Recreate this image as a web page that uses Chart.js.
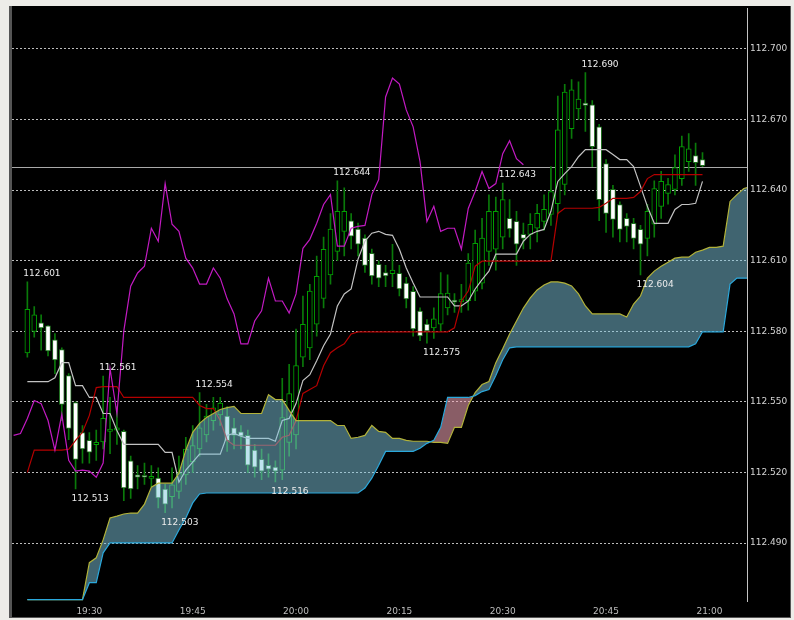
<!DOCTYPE html>
<html>
<head>
<meta charset="utf-8">
<script src="https://cdn.jsdelivr.net/npm/chart.js@4.4.1/dist/chart.umd.min.js"></script>
<style>
  html, body { margin: 0; padding: 0; background: #edece8; }
  #wrap { width: 794px; height: 620px; }
</style>
</head>
<body>
<div id="wrap"><canvas id="chart" width="794" height="620"></canvas></div>
<script>
// 1-minute bars, x value = minutes after 19:00
const candleStart = 21;
const opens = [
  112.5708, 112.5800, 112.5836, 112.5823, 112.5764, 112.5722, 112.5612, 112.5497, 112.5370, 112.5337,
  112.5318, 112.5330, 112.5375, 112.5380, 112.5375, 112.5250, 112.5190, 112.5185, 112.5175, 112.5176,
  112.5130, 112.5098, 112.5120, 112.5190, 112.5245, 112.5300, 112.5360, 112.5420, 112.5445, 112.5440,
  112.5390, 112.5373, 112.5358, 112.5295, 112.5256, 112.5231, 112.5223, 112.5210, 112.5328, 112.5360,
  112.5690, 112.5730, 112.5830, 112.5940, 112.6040, 112.6140, 112.6225, 112.6270, 112.6234, 112.6196,
  112.6132, 112.6085, 112.6050, 112.6045, 112.6047, 112.6005, 112.5970, 112.5886, 112.5831, 112.5815,
  112.5831, 112.5899, 112.5927, 112.5925, 112.5930, 112.5971, 112.6005, 112.6140, 112.6149, 112.6200,
  112.6280, 112.6267, 112.6212, 112.6212, 112.6238, 112.6267, 112.6297, 112.6343, 112.6424, 112.6661,
  112.6745, 112.6770, 112.6762, 112.6669, 112.6513, 112.6403, 112.6339, 112.6280, 112.6259, 112.6233,
  112.6195, 112.6255, 112.6331, 112.6386, 112.6403, 112.6449, 112.6521, 112.6547, 112.6530
];
const highs = [
  112.6010, 112.5905, 112.5870, 112.5825, 112.5790, 112.5730, 112.5620, 112.5500, 112.5400, 112.5370,
  112.5380, 112.5610, 112.5520, 112.5480, 112.5380, 112.5270, 112.5230, 112.5240, 112.5230, 112.5220,
  112.5150, 112.5220, 112.5270, 112.5350, 112.5400, 112.5540, 112.5490, 112.5520, 112.5520, 112.5480,
  112.5430, 112.5400, 112.5380, 112.5320, 112.5300, 112.5280, 112.5250, 112.5600, 112.5660, 112.5810,
  112.5950, 112.6000, 112.6120, 112.6200, 112.6300, 112.6440, 112.6410, 112.6300, 112.6260, 112.6210,
  112.6150, 112.6100, 112.6080, 112.6170, 112.6080, 112.6030, 112.5990, 112.5900, 112.5850, 112.5900,
  112.6050, 112.6040, 112.5960, 112.6000, 112.6130, 112.6230, 112.6280, 112.6380, 112.6370, 112.6430,
  112.6360, 112.6310, 112.6260, 112.6300, 112.6340, 112.6380, 112.6500, 112.6800, 112.6850, 112.6870,
  112.6860, 112.6900, 112.6780, 112.6680, 112.6530, 112.6420, 112.6350, 112.6300, 112.6280, 112.6250,
  112.6340, 112.6440, 112.6480, 112.6450, 112.6550, 112.6630, 112.6640, 112.6600, 112.6560
];
const lows = [
  112.5690, 112.5775, 112.5720, 112.5696, 112.5620, 112.5420, 112.5340, 112.5130, 112.5240, 112.5240,
  112.5252, 112.5300, 112.5280, 112.5320, 112.5080, 112.5090, 112.5130, 112.5150, 112.5140, 112.5050,
  112.5030, 112.5050, 112.5090, 112.5150, 112.5200, 112.5270, 112.5330, 112.5380, 112.5400, 112.5290,
  112.5300, 112.5300, 112.5200, 112.5180, 112.5170, 112.5180, 112.5160, 112.5170, 112.5270, 112.5300,
  112.5650, 112.5680, 112.5780, 112.5900, 112.6000, 112.6100, 112.6120, 112.6150, 112.6120, 112.6050,
  112.6000, 112.5990, 112.5990, 112.5990, 112.5950, 112.5900, 112.5780, 112.5760, 112.5750, 112.5770,
  112.5800, 112.5870, 112.5880, 112.5880, 112.5890, 112.5930, 112.5980, 112.6080, 112.6060, 112.6150,
  112.6200, 112.6080, 112.6150, 112.6150, 112.6180, 112.6230, 112.6250, 112.6300, 112.6380, 112.6620,
  112.6700, 112.6650, 112.6500, 112.6270, 112.6220, 112.6200, 112.6180, 112.6180, 112.6150, 112.6040,
  112.6120, 112.6200, 112.6280, 112.6340, 112.6380, 112.6420, 112.6480, 112.6420, 112.6500
];
const closes = [
  112.5894, 112.5870, 112.5815, 112.5717, 112.5679, 112.5490, 112.5388, 112.5256, 112.5300, 112.5287,
  112.5328, 112.5430, 112.5385, 112.5390, 112.5135, 112.5130, 112.5180, 112.5180, 112.5180, 112.5092,
  112.5066, 112.5148, 112.5198, 112.5300, 112.5315, 112.5390, 112.5440, 112.5475, 112.5495, 112.5335,
  112.5358, 112.5355, 112.5231, 112.5223, 112.5206, 112.5214, 112.5206, 112.5434, 112.5536, 112.5654,
  112.5830, 112.5971, 112.6034, 112.6149, 112.6234, 112.6310, 112.6310, 112.6204, 112.6170, 112.6080,
  112.6035, 112.6026, 112.6035, 112.6060, 112.5980, 112.5938, 112.5810, 112.5781, 112.5802, 112.5853,
  112.5960, 112.5963, 112.5924, 112.5935, 112.6090, 112.6174, 112.6196, 112.6310, 112.6310, 112.6360,
  112.6235, 112.6170, 112.6195, 112.6255, 112.6301, 112.6318, 112.6394, 112.6656, 112.6817, 112.6826,
  112.6787, 112.6760, 112.6585, 112.6360, 112.6301, 112.6276, 112.6233, 112.6246, 112.6195, 112.6170,
  112.6310, 112.6407, 112.6437, 112.6424, 112.6496, 112.6585, 112.6576, 112.6517, 112.6504
];

// Ichimoku lines
const tenkanStart = 21;
const tenkan = [
  112.5586, 112.5586, 112.5586, 112.5586, 112.5603, 112.5667, 112.5667, 112.5569, 112.5569, 112.5519,
  112.5519, 112.5451, 112.5451, 112.5379, 112.5320, 112.5320, 112.5320, 112.5320, 112.5320, 112.5320,
  112.5286, 112.5286, 112.5159, 112.5210, 112.5244, 112.5278, 112.5278, 112.5278, 112.5278, 112.5358,
  112.5366, 112.5354, 112.5345, 112.5345, 112.5345, 112.5345, 112.5333, 112.5421, 112.5430, 112.5493,
  112.5591, 112.5616, 112.5675, 112.5739, 112.5789, 112.5908, 112.5959, 112.5980, 112.6107, 112.6183,
  112.6217, 112.6225, 112.6212, 112.6208, 112.6149, 112.6069, 112.6005, 112.5946, 112.5946, 112.5946,
  112.5946, 112.5946, 112.5908, 112.5908, 112.5929, 112.5980, 112.6020, 112.6056, 112.6128, 112.6128,
  112.6128, 112.6128, 112.6183, 112.6212, 112.6225, 112.6233, 112.6310, 112.6437, 112.6470, 112.6500,
  112.6542, 112.6572, 112.6572, 112.6572, 112.6572, 112.6551, 112.6530, 112.6530, 112.6500, 112.6416,
  112.6331, 112.6259, 112.6259, 112.6259, 112.6318, 112.6339, 112.6339, 112.6344, 112.6437
];
const kijunStart = 21;
const kijun = [
  112.5201, 112.5295, 112.5295, 112.5295, 112.5295, 112.5295, 112.5299, 112.5337, 112.5371, 112.5443,
  112.5561, 112.5565, 112.5565, 112.5565, 112.5519, 112.5519, 112.5519, 112.5519, 112.5519, 112.5519,
  112.5519, 112.5519, 112.5519, 112.5519, 112.5519, 112.5485, 112.5472, 112.5472, 112.5421, 112.5337,
  112.5316, 112.5316, 112.5316, 112.5316, 112.5316, 112.5316, 112.5316, 112.5350, 112.5358, 112.5421,
  112.5536, 112.5553, 112.5569, 112.5654, 112.5709, 112.5730, 112.5747, 112.5789, 112.5798, 112.5798,
  112.5798, 112.5798, 112.5798, 112.5798, 112.5798, 112.5798, 112.5798, 112.5798, 112.5798, 112.5798,
  112.5798, 112.5798, 112.5815, 112.5929, 112.5971, 112.6077, 112.6098, 112.6098, 112.6098, 112.6098,
  112.6098, 112.6098, 112.6098, 112.6098, 112.6098, 112.6098, 112.6098, 112.6301, 112.6323, 112.6323,
  112.6323, 112.6323, 112.6323, 112.6327, 112.6344, 112.6365, 112.6365, 112.6365, 112.6369, 112.6394,
  112.6449, 112.6466, 112.6466, 112.6466, 112.6466, 112.6466, 112.6466, 112.6466, 112.6466
];
const chikouStart = 19;
const chikou = [
  112.5358, 112.5366, 112.5430, 112.5506, 112.5493, 112.5421, 112.5295, 112.5447, 112.5252, 112.5206,
  112.5210, 112.5206, 112.5180, 112.5240, 112.5642, 112.5451, 112.5802, 112.5992, 112.6048, 112.6077,
  112.6238, 112.6183, 112.6428, 112.6255, 112.6225, 112.6111, 112.6069, 112.6001, 112.6001, 112.6069,
  112.6026, 112.5938, 112.5874, 112.5747, 112.5747, 112.5844, 112.5887, 112.6026, 112.5929, 112.5929,
  112.5878, 112.5959, 112.6153, 112.6191, 112.6259, 112.6339, 112.6381, 112.6162, 112.6162, 112.6238,
  112.6246, 112.6250, 112.6381, 112.6445, 112.6796, 112.6876, 112.6851, 112.6741, 112.6669, 112.6521,
  112.6267, 112.6331, 112.6225, 112.6238, 112.6238, 112.6149, 112.6322, 112.6394, 112.6479, 112.6407,
  112.6428, 112.6555, 112.6610, 112.6534, 112.6508
];
const spanStart = 21;
const spanA = [
  112.4660, 112.4660, 112.4660, 112.4660, 112.4660, 112.4660, 112.4660, 112.4660, 112.4660, 112.4817,
  112.4838, 112.4914, 112.5007, 112.5015, 112.5024, 112.5028, 112.5028, 112.5066, 112.5138, 112.5155,
  112.5155, 112.5155, 112.5197, 112.5295, 112.5371, 112.5409, 112.5434, 112.5451, 112.5468, 112.5476,
  112.5481, 112.5451, 112.5451, 112.5451, 112.5451, 112.5531, 112.5510, 112.5510, 112.5464, 112.5421,
  112.5421, 112.5421, 112.5421, 112.5421, 112.5421, 112.5400, 112.5400, 112.5345, 112.5350, 112.5358,
  112.5400, 112.5375, 112.5371, 112.5345, 112.5345, 112.5337, 112.5333, 112.5333, 112.5333, 112.5328,
  112.5328, 112.5324, 112.5392, 112.5392, 112.5485, 112.5540, 112.5574, 112.5587, 112.5667, 112.5726,
  112.5789, 112.5844, 112.5899, 112.5942, 112.5976, 112.5997, 112.6010, 112.6010, 112.6005, 112.5993,
  112.5959, 112.5908, 112.5874, 112.5874, 112.5874, 112.5874, 112.5874, 112.5861, 112.5916, 112.5950,
  112.6026, 112.6056, 112.6077, 112.6094, 112.6111, 112.6115, 112.6115, 112.6136, 112.6145, 112.6157,
  112.6157, 112.6162, 112.6352, 112.6381, 112.6407, 112.6416
];
const spanB = [
  112.4660, 112.4660, 112.4660, 112.4660, 112.4660, 112.4660, 112.4660, 112.4660, 112.4660, 112.4732,
  112.4732, 112.4859, 112.4901, 112.4901, 112.4901, 112.4901, 112.4901, 112.4901, 112.4901, 112.4901,
  112.4901, 112.4901, 112.4956, 112.5007, 112.5071, 112.5109, 112.5113, 112.5113, 112.5113, 112.5113,
  112.5113, 112.5113, 112.5113, 112.5113, 112.5113, 112.5113, 112.5113, 112.5113, 112.5113, 112.5113,
  112.5113, 112.5113, 112.5113, 112.5113, 112.5113, 112.5113, 112.5113, 112.5113, 112.5113, 112.5134,
  112.5176, 112.5231, 112.5290, 112.5290, 112.5290, 112.5290, 112.5290, 112.5303, 112.5324, 112.5337,
  112.5392, 112.5519, 112.5519, 112.5519, 112.5519, 112.5527, 112.5544, 112.5553, 112.5612, 112.5679,
  112.5730, 112.5734, 112.5734, 112.5734, 112.5734, 112.5734, 112.5734, 112.5734, 112.5734, 112.5734,
  112.5734, 112.5734, 112.5734, 112.5734, 112.5734, 112.5734, 112.5734, 112.5734, 112.5734, 112.5734,
  112.5734, 112.5734, 112.5734, 112.5734, 112.5734, 112.5734, 112.5734, 112.5747, 112.5798, 112.5798,
  112.5798, 112.5798, 112.6001, 112.6026, 112.6026, 112.6026
];

// axes
const yTicks = [112.490, 112.520, 112.550, 112.580, 112.610, 112.640, 112.670, 112.700];
const xTicks = [30, 45, 60, 75, 90, 105, 120];
const xTickLabels = ['19:30', '19:45', '20:00', '20:15', '20:30', '20:45', '21:00'];
const lastPrice = 112.650;

// swing high / low markers
const markMinutes = [21, 32, 46, 66, 90, 102, 28, 41, 57, 79, 110];
const markPrices = [112.601, 112.561, 112.554, 112.644, 112.643, 112.690, 112.513, 112.503, 112.516, 112.575, 112.604];
const markAbove = [true, true, true, true, true, true, false, false, false, false, false];

const FONT = 'DejaVu Sans';
Chart.defaults.font.family = FONT;

const toPoints = (start, values) => values.map((v, i) => ({ x: start + i, y: v }));
const isBull = opens.map((o, i) => closes[i] >= o);
const wickData = lows.map((l, i) => ({ x: candleStart + i, y: [l, highs[i]] }));
const bodyData = opens.map((o, i) => ({ x: candleStart + i, y: [o, closes[i]] }));

const framePlugin = {
  id: 'frame',
  beforeDraw(chart) {
    const ctx = chart.ctx;
    ctx.save();
    ctx.fillStyle = '#edece8';
    ctx.fillRect(0, 0, chart.width, chart.height);
    ctx.fillStyle = '#000';
    ctx.fillRect(12, 6, 778, 612);
    ctx.fillStyle = '#555';
    ctx.fillRect(9, 6, 3, 612);
    ctx.fillRect(9, 617, 782, 1);
    ctx.fillRect(790, 6, 1, 612);
    ctx.restore();
  }
};

const priceLinePlugin = {
  id: 'priceLine',
  beforeDatasetsDraw(chart) {
    const { ctx, chartArea, scales } = chart;
    const y = Math.round(scales.y.getPixelForValue(lastPrice)) + 0.5;
    ctx.save();
    ctx.strokeStyle = '#a9a9a9';
    ctx.lineWidth = 1;
    ctx.beginPath();
    ctx.moveTo(chartArea.left, y);
    ctx.lineTo(chartArea.right, y);
    ctx.stroke();
    ctx.restore();
  }
};

const marksPlugin = {
  id: 'marks',
  afterDatasetsDraw(chart) {
    const { ctx, scales } = chart;
    ctx.save();
    ctx.font = '9px "' + FONT + '"';
    ctx.fillStyle = '#ececec';
    ctx.textAlign = 'left';
    ctx.textBaseline = 'middle';
    markMinutes.forEach((m, i) => {
      const x = scales.x.getPixelForValue(m) - 4;
      const y = scales.y.getPixelForValue(markPrices[i]) + (markAbove[i] ? -8 : 10);
      ctx.fillText(markPrices[i].toFixed(3), x, y);
    });
    ctx.restore();
  }
};

new Chart(document.getElementById('chart'), {
  type: 'line',
  data: {
    datasets: [
      {
        type: 'bar', label: 'wick', data: wickData,
        backgroundColor: '#0a7a0a', barThickness: 1, grouped: false, order: 7
      },
      {
        type: 'bar', label: 'body', data: bodyData,
        backgroundColor: c => isBull[c.dataIndex] ? '#000000' : '#ffffff',
        borderColor: c => isBull[c.dataIndex] ? '#00a000' : '#1f6e1f',
        borderWidth: 1, borderSkipped: false, barThickness: 5, minBarLength: 2,
        grouped: false, order: 6
      },
      {
        label: 'Tenkan', data: toPoints(tenkanStart, tenkan),
        borderColor: '#c2c2c2', borderWidth: 1.2, pointRadius: 0, tension: 0, order: 5
      },
      {
        label: 'Kijun', data: toPoints(kijunStart, kijun),
        borderColor: '#b40000', borderWidth: 1.2, pointRadius: 0, tension: 0, order: 4
      },
      {
        label: 'Chikou', data: toPoints(chikouStart, chikou),
        borderColor: '#c21ac2', borderWidth: 1.2, pointRadius: 0, tension: 0, order: 3
      },
      {
        label: 'Senkou A', data: toPoints(spanStart, spanA),
        borderColor: '#b2b23a', borderWidth: 1.2, pointRadius: 0, tension: 0, order: 1,
        fill: { target: '+1', above: 'rgba(128,200,224,0.5)', below: 'rgba(250,170,185,0.55)' }
      },
      {
        label: 'Senkou B', data: toPoints(spanStart, spanB),
        borderColor: '#2aa8dc', borderWidth: 1.2, pointRadius: 0, tension: 0, order: 0
      }
    ]
  },
  options: {
    responsive: false,
    devicePixelRatio: 1,
    animation: false,
    layout: { padding: { left: 12, top: 6, right: 4, bottom: 2 } },
    plugins: {
      legend: { display: false },
      tooltip: { enabled: false }
    },
    scales: {
      x: {
        type: 'linear', position: 'bottom', min: 18.77, max: 125.46,
        offset: false,
        grid: { display: false, offset: false, drawTicks: false },
        border: { display: false },
        afterBuildTicks: s => { s.ticks = xTicks.map(v => ({ value: v })); },
        afterFit: s => { s.height = 17; },
        ticks: {
          color: '#bdbdbd', font: { size: 9 }, padding: 5,
          maxRotation: 0, autoSkip: false,
          callback: (v, i) => xTickLabels[i]
        }
      },
      y: {
        type: 'linear', position: 'right', min: 112.46542, max: 112.71722,
        grid: { color: '#bcbcbc', lineWidth: 1, drawTicks: false },
        border: { display: true, color: '#c4c4c4', width: 1, dash: [2, 2] },
        afterBuildTicks: s => { s.ticks = yTicks.map(v => ({ value: v })); },
        afterFit: s => { s.width = 43; },
        ticks: {
          color: '#d4d4d4', font: { size: 9 }, padding: 3,
          callback: v => v.toFixed(3)
        }
      }
    }
  },
  plugins: [framePlugin, priceLinePlugin, marksPlugin]
});
</script>
</body>
</html>
